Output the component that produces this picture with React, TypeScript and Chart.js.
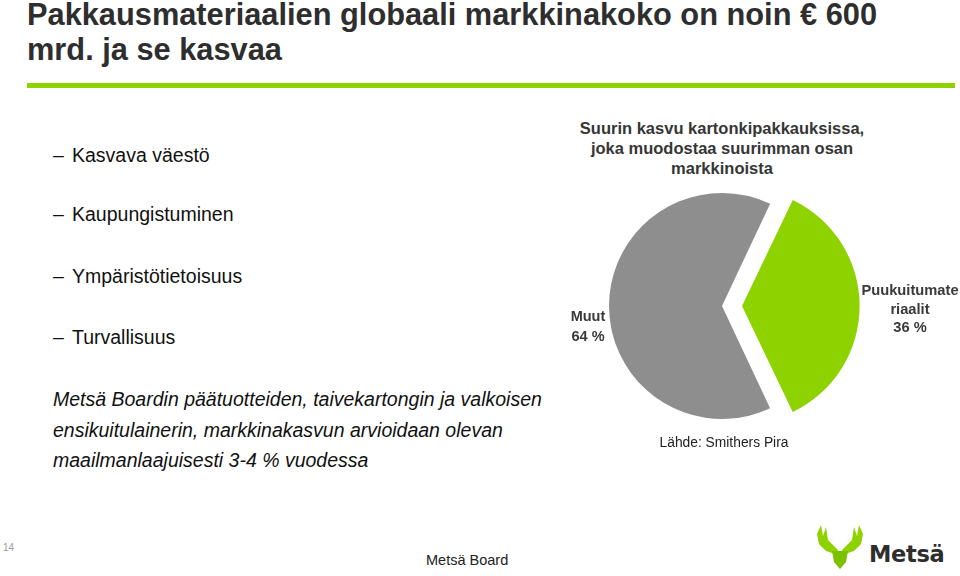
import React, { useEffect, useLayoutEffect, useRef } from "react";
import { Chart, registerables } from "chart.js";

Chart.register(...registerables);

const titleLines = ["Pakkausmateriaalien globaali markkinakoko on noin € 600", "mrd. ja se kasvaa"];
const bullets = ["Kasvava väestö", "Kaupungistuminen", "Ympäristötietoisuus", "Turvallisuus"];
const bulletY = [155, 214, 276, 337];
const headerLines = ["Suurin kasvu kartonkipakkauksissa,", "joka muodostaa suurimman osan", "markkinoista"];
const noteLines = [
  "Metsä Boardin päätuotteiden, taivekartongin ja valkoisen",
  "ensikuitulainerin, markkinakasvun arvioidaan olevan",
  "maailmanlaajuisesti 3-4 % vuodessa",
];
const sliceLabels = ["Puukuitumateriaalit", "Muut"];
const sliceValues = [36, 64];
const sliceColors = ["#8ed300", "#8e8e8e"];
const sliceOffsets = [80, 0];

const GREEN = "#8ed300";

function PieChart() {
  const ref = useRef<HTMLCanvasElement | null>(null);
  useEffect(() => {
    if (!ref.current) return;
    const chart = new Chart(ref.current, {
      type: "pie",
      data: {
        labels: sliceLabels,
        datasets: [
          {
            data: sliceValues,
            backgroundColor: sliceColors,
            borderWidth: 0,
            offset: sliceOffsets,
            hoverOffset: 0,
          } as any,
        ],
      },
      options: {
        animation: false,
        responsive: false,
        rotation: 90 - (sliceValues[0] / (sliceValues[0] + sliceValues[1])) * 180,
        radius: 113,
        layout: { padding: 0 },
        plugins: { legend: { display: false }, tooltip: { enabled: false } },
        events: [],
      } as any,
    });
    return () => chart.destroy();
  }, []);
  return (
    <canvas
      ref={ref}
      width={300}
      height={260}
      style={{ position: "absolute", left: 572, top: 176, width: 300, height: 260 }}
    />
  );
}

function Title() {
  const ref0 = useRef<HTMLDivElement | null>(null);
  const ref1 = useRef<HTMLDivElement | null>(null);
  const span0 = useRef<HTMLSpanElement | null>(null);
  useLayoutEffect(() => {
    const el = span0.current;
    if (!el) return;
    const w = el.getBoundingClientRect().width;
    if (w > 0) {
      const tf = `scaleX(${850 / w})`;
      if (ref0.current) ref0.current.style.transform = tf;
      if (ref1.current) ref1.current.style.transform = tf;
    }
  }, []);
  const base: React.CSSProperties = {
    position: "absolute",
    whiteSpace: "nowrap",
    left: 27,
    fontFamily: "'Liberation Sans', Arial, sans-serif",
    fontWeight: "bold",
    fontSize: 32,
    lineHeight: "28px",
    color: "#2e2e2e",
    transformOrigin: "0 0",
  };
  return (
    <>
      <div ref={ref0} style={{ ...base, top: 0 }}>
        <span ref={span0}>{titleLines[0]}</span>
      </div>
      <div ref={ref1} style={{ ...base, top: 35 }}>
        <span>{titleLines[1]}</span>
      </div>
    </>
  );
}

export default function App() {
  const abs = (o: React.CSSProperties): React.CSSProperties => ({ position: "absolute", whiteSpace: "nowrap", ...o });
  return (
    <div
      style={{
        position: "fixed",
        left: 0,
        top: 0,
        width: 960,
        height: 576,
        background: "#fff",
        overflow: "hidden",
        fontFamily: "'Liberation Sans', Arial, sans-serif",
      }}
    >
      <Title />
      <div style={abs({ left: 27, top: 83, width: 928, height: 5, background: GREEN })} />

      {bullets.map((b, i) => (
        <React.Fragment key={i}>
          <div style={abs({ left: 53, top: bulletY[i] - 12, fontSize: 19.5, lineHeight: "24px", color: "#111" })}>–</div>
          <div style={abs({ left: 72, top: bulletY[i] - 12, fontSize: 19.5, lineHeight: "24px", color: "#111" })}>{b}</div>
        </React.Fragment>
      ))}

      {headerLines.map((t, i) => (
        <div
          key={i}
          style={abs({
            left: 522,
            width: 400,
            top: 128 - 10 + i * 20,
            fontSize: 16.5,
            lineHeight: "20px",
            fontWeight: "bold",
            color: "#363636",
            textAlign: "center",
          })}
        >
          {t}
        </div>
      ))}

      <PieChart />

      <div style={abs({ left: 548, width: 80, top: 306, fontSize: 14.5, lineHeight: "20px", fontWeight: "bold", color: "#3a3a3a", textAlign: "center" })}>
        Muut
        <br />
        64 %
      </div>
      <div style={abs({ left: 850, width: 120, top: 281, fontSize: 14.7, lineHeight: "18.5px", fontWeight: "bold", color: "#3a3a3a", textAlign: "center" })}>
        Puukuitumate
        <br />
        riaalit
        <br />
        36 %
      </div>

      {noteLines.map((t, i) => (
        <div key={i} style={abs({ left: 53, top: 399 - 12 + i * 30.5, fontSize: 19.5, lineHeight: "24px", fontStyle: "italic", color: "#111" })}>
          {t}
        </div>
      ))}

      <div style={abs({ left: 624, width: 200, top: 434, fontSize: 13.8, lineHeight: "18px", color: "#222", textAlign: "center" })}>
        Lähde: Smithers Pira
      </div>

      <div style={abs({ left: 3, top: 542, fontSize: 10, lineHeight: "12px", color: "#9a9a9a" })}>14</div>
      <div style={abs({ left: 426, top: 551, fontSize: 14.5, lineHeight: "18px", color: "#222" })}>Metsä Board</div>

      <svg style={{ position: "absolute", left: 817, top: 524, width: 46, height: 45 }} viewBox="0 0 46 45">
        <path d="M0,10 L4,1 L6,12 L9,3 L11,16 L21,26 L21,31 L9,27 L2,20 Z" fill={GREEN} />
        <path d="M46,10 L42,1 L40,12 L37,3 L35,16 L25,26 L25,31 L37,27 L44,20 Z" fill={GREEN} />
        <path d="M15,27 L31,27 L29,38 L23,45 L17,38 Z" fill="#7cc000" />
      </svg>
      <div style={abs({ left: 869, top: 540, fontSize: 22.5, lineHeight: "28px", fontWeight: "bold", fontFamily: "'DejaVu Sans', sans-serif", color: "#2e2e2e", letterSpacing: -0.3 })}>
        Metsä
      </div>
    </div>
  );
}
